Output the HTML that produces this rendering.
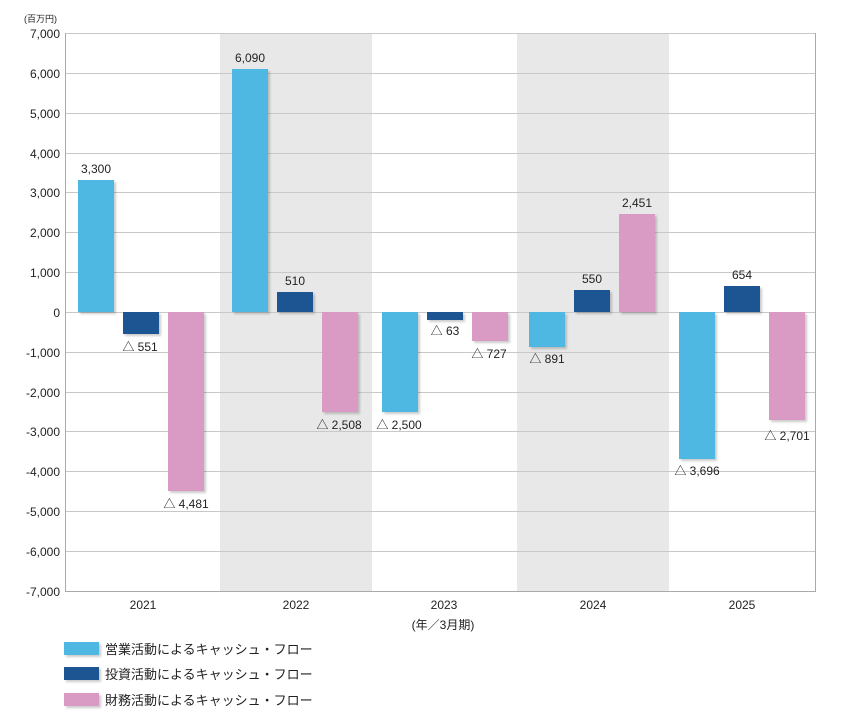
<!DOCTYPE html><html><head><meta charset="utf-8"><style>body{margin:0;background:#fff}svg text{font-family:"Liberation Sans","Noto Sans CJK JP",sans-serif;fill:#222}</style></head><body>
<svg width="842" height="720" xmlns="http://www.w3.org/2000/svg">
<defs><filter id="s" x="-20%" y="-20%" width="150%" height="150%"><feDropShadow dx="2" dy="2" stdDeviation="1" flood-color="#000" flood-opacity="0.2"/></filter></defs>
<rect x="220" y="33" width="152" height="558" fill="#e8e8e8"/>
<rect x="517" y="33" width="152" height="558" fill="#e8e8e8"/>
<g stroke="#c8c8c8" stroke-width="1">
<line x1="65" x2="815" y1="33.5" y2="33.5"/><line x1="65" x2="815" y1="73.5" y2="73.5"/><line x1="65" x2="815" y1="113.5" y2="113.5"/><line x1="65" x2="815" y1="153.5" y2="153.5"/><line x1="65" x2="815" y1="192.5" y2="192.5"/><line x1="65" x2="815" y1="232.5" y2="232.5"/><line x1="65" x2="815" y1="272.5" y2="272.5"/><line x1="65" x2="815" y1="312.5" y2="312.5"/><line x1="65" x2="815" y1="352.5" y2="352.5"/><line x1="65" x2="815" y1="392.5" y2="392.5"/><line x1="65" x2="815" y1="431.5" y2="431.5"/><line x1="65" x2="815" y1="471.5" y2="471.5"/><line x1="65" x2="815" y1="511.5" y2="511.5"/><line x1="65" x2="815" y1="551.5" y2="551.5"/>
</g>
<g stroke="#aaa" fill="none"><polyline points="65.5,33 65.5,591.5 815.5,591.5 815.5,33"/></g>
<g font-size="12" text-anchor="end">
<text x="60" y="38">7,000</text><text x="60" y="78">6,000</text><text x="60" y="118">5,000</text><text x="60" y="158">4,000</text><text x="60" y="197">3,000</text><text x="60" y="237">2,000</text><text x="60" y="277">1,000</text><text x="60" y="317">0</text><text x="60" y="357">-1,000</text><text x="60" y="397">-2,000</text><text x="60" y="436">-3,000</text><text x="60" y="476">-4,000</text><text x="60" y="516">-5,000</text><text x="60" y="556">-6,000</text><text x="60" y="596">-7,000</text>
</g>
<text x="24" y="22" font-size="9">(百万円)</text>
<g filter="url(#s)">
<rect x="78" y="180" width="36" height="132" fill="#4fb8e2"/><rect x="123" y="312" width="36" height="22" fill="#1f5592"/><rect x="168" y="312" width="36" height="179" fill="#d99ac4"/>
<rect x="232" y="69" width="36" height="243" fill="#4fb8e2"/><rect x="277" y="292" width="36" height="20" fill="#1f5592"/><rect x="322" y="312" width="36" height="100" fill="#d99ac4"/>
<rect x="382" y="312" width="36" height="100" fill="#4fb8e2"/><rect x="427" y="312" width="36" height="8" fill="#1f5592"/><rect x="472" y="312" width="36" height="29" fill="#d99ac4"/>
<rect x="529" y="312" width="36" height="35" fill="#4fb8e2"/><rect x="574" y="290" width="36" height="22" fill="#1f5592"/><rect x="619" y="214" width="36" height="98" fill="#d99ac4"/>
<rect x="679" y="312" width="36" height="147" fill="#4fb8e2"/><rect x="724" y="286" width="36" height="26" fill="#1f5592"/><rect x="769" y="312" width="36" height="108" fill="#d99ac4"/>
</g>
<g font-size="12" text-anchor="middle">
<text x="96" y="173">3,300</text><text x="140" y="351">△ 551</text><text x="186" y="508">△ 4,481</text>
<text x="250" y="62">6,090</text><text x="295" y="285">510</text><text x="339" y="429">△ 2,508</text>
<text x="399" y="429">△ 2,500</text><text x="445" y="335">△ 63</text><text x="489" y="358">△ 727</text>
<text x="547" y="363">△ 891</text><text x="592" y="283">550</text><text x="637" y="207">2,451</text>
<text x="697" y="475">△ 3,696</text><text x="742" y="279">654</text><text x="787" y="440">△ 2,701</text>
<text x="143" y="609">2021</text><text x="296" y="609">2022</text><text x="444" y="609">2023</text><text x="593" y="609">2024</text><text x="742" y="609">2025</text>
<text x="443" y="629">(年／3月期)</text>
</g>
<g filter="url(#s)"><rect x="64" y="642" width="35" height="13" fill="#4fb8e2"/><rect x="64" y="667" width="35" height="13" fill="#1f5592"/><rect x="64" y="693" width="35" height="13" fill="#d99ac4"/></g>
<g font-size="13"><text x="105" y="654">営業活動によるキャッシュ・フロー</text><text x="105" y="679">投資活動によるキャッシュ・フロー</text><text x="105" y="705">財務活動によるキャッシュ・フロー</text></g>
</svg></body></html>
